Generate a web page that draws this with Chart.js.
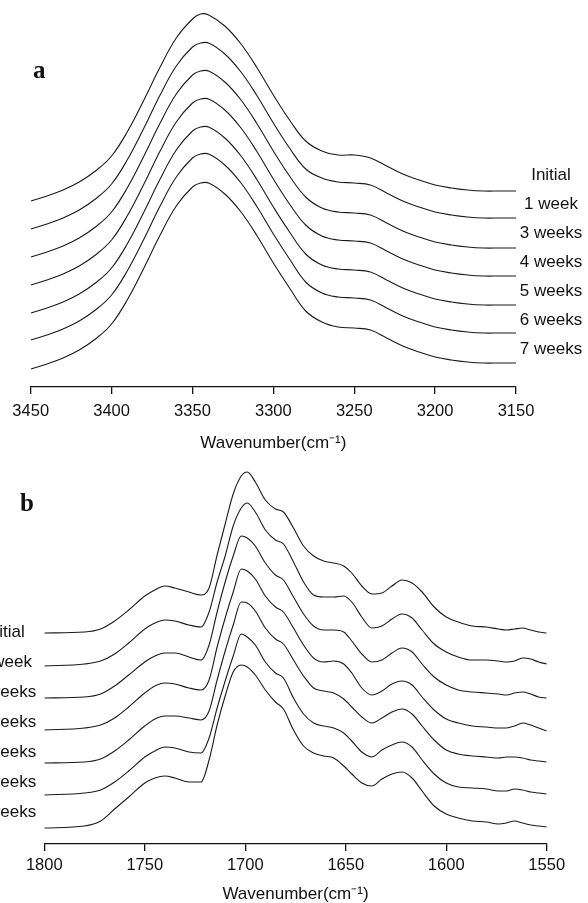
<!DOCTYPE html>
<html>
<head>
<meta charset="utf-8">
<title>FTIR spectra during storage</title>
<script src="https://cdn.jsdelivr.net/npm/chart.js@4.4.1/dist/chart.umd.min.js"></script>
<style>
  html, body { margin: 0; padding: 0; background: #fff; }
  body { width: 588px; height: 903px; position: relative; overflow: hidden; }
  .panel { position: absolute; left: 0; width: 588px; }
  #panel-a { top: 0; height: 460px; }
  #panel-b { top: 460px; height: 443px; }
</style>
</head>
<body>
<div class="panel" id="panel-a"><canvas id="chart-a" width="588" height="460"></canvas></div>
<div class="panel" id="panel-b"><canvas id="chart-b" width="588" height="443"></canvas></div>
<script>
const SERIES_NAMES = ['Initial', '1 week', '3 weeks', '4 weeks', '5 weeks', '6 weeks', '7 weeks'];

// (a) 3450–3150 cm-1 band, stacked traces (offset absorbance, a.u.)
const WAVENUMBER_A = [3450,3440,3430,3420,3410,3400,3390,3380,3370,3360,3350,3345,3340,3330,3320,3310,
                      3300,3290,3280,3270,3260,3250,3240,3230,3220,3210,3200,3190,3180,3170,3160,3150];
const A_INITIAL = [1.86,1.91,1.97,2.05,2.16,2.31,2.56,2.87,3.20,3.49,3.68,3.73,3.72,3.61,3.43,3.19,
                   2.92,2.67,2.46,2.36,2.32,2.32,2.29,2.21,2.13,2.07,2.02,1.99,1.97,1.96,1.96,1.96];
const A_WEEK1   = [1.58,1.63,1.69,1.77,1.88,2.03,2.28,2.59,2.92,3.21,3.40,3.44,3.44,3.33,3.15,2.91,
                   2.64,2.39,2.18,2.09,2.05,2.04,2.02,1.94,1.86,1.80,1.75,1.72,1.70,1.69,1.69,1.69];
const A_WEEK3   = [1.30,1.35,1.41,1.49,1.60,1.75,2.00,2.31,2.64,2.93,3.12,3.16,3.16,3.05,2.87,2.63,
                   2.36,2.11,1.90,1.79,1.75,1.74,1.72,1.64,1.56,1.50,1.45,1.42,1.40,1.39,1.39,1.39];
const A_WEEK4   = [1.02,1.07,1.13,1.21,1.32,1.47,1.72,2.03,2.36,2.65,2.84,2.88,2.88,2.77,2.59,2.35,
                   2.08,1.83,1.62,1.51,1.47,1.46,1.44,1.36,1.28,1.22,1.17,1.14,1.12,1.11,1.11,1.11];
const A_WEEK5   = [0.74,0.79,0.85,0.93,1.04,1.19,1.44,1.75,2.08,2.37,2.56,2.60,2.60,2.49,2.31,2.07,
                   1.80,1.55,1.33,1.22,1.18,1.17,1.15,1.07,0.99,0.93,0.88,0.85,0.83,0.82,0.82,0.82];
const A_WEEK6   = [0.47,0.52,0.58,0.66,0.77,0.92,1.17,1.48,1.81,2.10,2.29,2.33,2.33,2.22,2.04,1.80,
                   1.53,1.28,1.05,0.94,0.90,0.89,0.87,0.79,0.71,0.65,0.60,0.57,0.55,0.54,0.54,0.54];
const A_WEEK7   = [0.18,0.23,0.29,0.37,0.48,0.63,0.88,1.19,1.52,1.81,2.00,2.04,2.04,1.93,1.75,1.51,
                   1.24,0.99,0.76,0.65,0.60,0.59,0.57,0.49,0.41,0.35,0.30,0.27,0.25,0.24,0.24,0.24];
const TICKS_A = [3450, 3400, 3350, 3300, 3250, 3200, 3150];

// (b) 1800–1550 cm-1 (carbonyl / amide) region
const WAVENUMBER_B = [1800,1780,1772,1765,1758,1750,1745,1740,1735,1728,1722,1718,1714,1710,1706,1702,
                      1699,1695,1690,1685,1681,1676,1671,1666,1661,1656,1651,1647,1642,1637,1632,1627,
                      1622,1617,1612,1606,1600,1594,1587,1580,1574,1570,1566,1562,1558,1554,1550];
const B_INITIAL = [2.11,2.12,2.15,2.23,2.34,2.48,2.54,2.58,2.56,2.52,2.49,2.56,2.89,3.20,3.50,3.68,
                   3.72,3.62,3.44,3.35,3.32,3.16,2.98,2.88,2.83,2.81,2.78,2.71,2.58,2.50,2.51,2.58,
                   2.64,2.61,2.52,2.37,2.27,2.22,2.18,2.17,2.15,2.14,2.15,2.16,2.14,2.12,2.11];
const B_WEEK1   = [1.78,1.80,1.83,1.90,2.01,2.15,2.21,2.24,2.23,2.19,2.17,2.32,2.62,2.88,3.18,3.36,
                   3.41,3.32,3.14,3.04,3.00,2.82,2.62,2.49,2.47,2.47,2.48,2.42,2.27,2.16,2.18,2.25,
                   2.30,2.26,2.14,2.00,1.92,1.87,1.84,1.84,1.83,1.82,1.83,1.86,1.85,1.82,1.80];
const B_WEEK3   = [1.46,1.47,1.50,1.58,1.69,1.82,1.88,1.91,1.91,1.87,1.84,1.99,2.32,2.62,2.88,3.08,
                   3.06,2.98,2.81,2.69,2.64,2.47,2.30,2.18,2.14,2.14,2.12,2.03,1.90,1.82,1.84,1.91,
                   1.96,1.92,1.80,1.67,1.59,1.54,1.52,1.51,1.50,1.49,1.51,1.52,1.50,1.47,1.46];
const B_WEEK4   = [1.14,1.16,1.19,1.26,1.37,1.51,1.58,1.61,1.60,1.56,1.54,1.64,1.97,2.26,2.52,2.75,
                   2.73,2.65,2.48,2.37,2.32,2.16,1.99,1.86,1.82,1.83,1.80,1.71,1.56,1.49,1.53,1.60,
                   1.63,1.59,1.47,1.34,1.25,1.21,1.18,1.17,1.16,1.16,1.18,1.21,1.19,1.16,1.13];
const B_WEEK5   = [0.81,0.82,0.85,0.93,1.04,1.18,1.25,1.28,1.28,1.26,1.24,1.33,1.64,1.93,2.19,2.42,
                   2.41,2.33,2.16,2.05,2.00,1.84,1.68,1.56,1.53,1.51,1.45,1.37,1.27,1.21,1.26,1.32,
                   1.35,1.30,1.18,1.04,0.94,0.90,0.88,0.87,0.86,0.87,0.87,0.86,0.84,0.83,0.82];
const B_WEEK6   = [0.49,0.51,0.54,0.62,0.73,0.87,0.93,0.97,0.96,0.92,0.91,1.06,1.36,1.63,1.88,2.10,
                   2.07,1.99,1.82,1.71,1.66,1.46,1.30,1.21,1.18,1.16,1.11,1.03,0.92,0.87,0.94,0.99,
                   1.02,0.97,0.84,0.70,0.61,0.57,0.56,0.55,0.53,0.53,0.55,0.54,0.52,0.51,0.50];
const B_WEEK7   = [0.16,0.18,0.23,0.35,0.47,0.61,0.66,0.68,0.66,0.62,0.62,0.84,1.19,1.48,1.72,1.79,
                   1.77,1.69,1.54,1.42,1.35,1.14,0.98,0.91,0.88,0.86,0.78,0.70,0.61,0.58,0.65,0.70,
                   0.72,0.66,0.53,0.38,0.30,0.26,0.23,0.22,0.20,0.21,0.23,0.21,0.19,0.18,0.17];
const TICKS_B = [1800, 1750, 1700, 1650, 1600, 1550];

const SANS = '"Liberation Sans", Arial, Helvetica, sans-serif';
const INK = '#111';

// smooth: true -> cardinal spline (broad OH band), else monotone cubic
function trace(label, xs, ys, smooth) {
  return {
    label,
    data: xs.map((x, i) => ({ x, y: ys[i] })),
    borderColor: '#1a1a1a',
    borderWidth: 1.1,
    pointRadius: 0,
    fill: false,
    tension: smooth ? 0.4 : 0,
    cubicInterpolationMode: smooth ? 'default' : 'monotone'
  };
}

// series names stacked beside the traces + bold panel letter
const curveLabels = {
  id: 'curveLabels',
  afterDatasetsDraw(chart, args, opts) {
    const { ctx } = chart;
    const y = chart.scales.y;
    ctx.save();
    ctx.fillStyle = INK;
    ctx.font = '17px ' + SANS;
    ctx.textAlign = 'center';
    ctx.textBaseline = 'middle';
    SERIES_NAMES.forEach((name, i) => {
      ctx.fillText(name, opts.x, y.getPixelForValue(opts.top - i * opts.step));
    });
    ctx.font = 'bold 25px "Liberation Serif", "Times New Roman", serif';
    ctx.textAlign = 'left';
    ctx.textBaseline = 'alphabetic';
    ctx.fillText(opts.letter, opts.letterX, opts.letterY);
    ctx.restore();
  }
};

function xAxis(min, max, ticks, opts) {
  return {
    type: 'linear',
    reverse: true,
    min, max,
    afterBuildTicks: scale => { scale.ticks = ticks.map(v => ({ value: v })); },
    ticks: {
      color: INK,
      padding: opts.tickPad,
      maxRotation: 0,
      autoSkip: false,
      font: { family: SANS, size: 16.5 },
      callback: v => String(v)
    },
    grid: { drawOnChartArea: false, drawTicks: true, tickLength: 7, color: INK, lineWidth: 1.3 },
    border: { display: true, color: INK, width: 1.3 },
    title: {
      display: true,
      text: 'Wavenumber(cm\u207B\u00B9)',
      color: INK,
      font: { family: SANS, size: 17 },
      padding: { top: 4, bottom: opts.titlePad }
    },
    afterFit: scale => { scale.height = opts.height; }
  };
}

function makeChart(id, xs, series, cfg) {
  return new Chart(document.getElementById(id), {
    type: 'line',
    data: { datasets: series.map((ys, i) => trace(SERIES_NAMES[i], xs, ys, cfg.smooth)) },
    options: {
      responsive: false,
      animation: false,
      layout: { padding: cfg.padding },
      scales: {
        x: xAxis(cfg.min, cfg.max, cfg.ticks, cfg.axis),
        y: { display: false, min: 0, max: cfg.yMax }
      },
      plugins: {
        legend: { display: false },
        tooltip: { enabled: false },
        curveLabels: cfg.labels
      }
    },
    plugins: [curveLabels]
  });
}

makeChart('chart-a', WAVENUMBER_A,
  [A_INITIAL, A_WEEK1, A_WEEK3, A_WEEK4, A_WEEK5, A_WEEK6, A_WEEK7], {
    min: 3150, max: 3450, ticks: TICKS_A, yMax: 3.8, smooth: true,
    padding: { left: 30.7, right: 72, top: 7, bottom: 0 },
    axis: { height: 73, tickPad: 8, titlePad: 6 },
    labels: { x: 551, top: 2.12, step: 0.2905, letter: 'a', letterX: 33, letterY: 78 }
  });

makeChart('chart-b', WAVENUMBER_B,
  [B_INITIAL, B_WEEK1, B_WEEK3, B_WEEK4, B_WEEK5, B_WEEK6, B_WEEK7], {
    min: 1550, max: 1800, ticks: TICKS_B, yMax: 3.75, smooth: false,
    padding: { left: 44.3, right: 41.3, top: 9, bottom: 0 },
    axis: { height: 59, tickPad: 5, titlePad: -2 },
    labels: { x: 5, top: 2.117, step: 0.30, letter: 'b', letterX: 20, letterY: 50.5 }
  });
</script>
</body>
</html>
